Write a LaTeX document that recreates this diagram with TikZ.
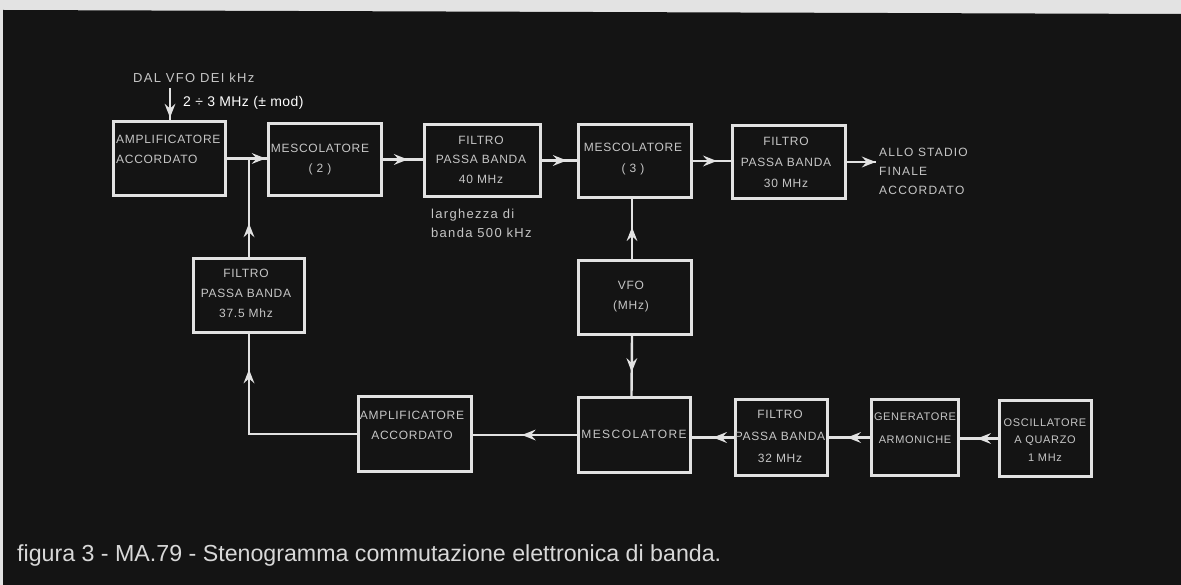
\documentclass[tikz,border=0pt]{standalone}
\usepackage{fontspec}
\setmainfont{Liberation Sans}
\newfontfamily\boxfont[LetterSpace=6]{Liberation Sans}
\newfontfamily\lblfont[LetterSpace=10]{Liberation Sans}
\newfontfamily\widebox[LetterSpace=12]{Liberation Sans}
\newfontfamily\inpfont[LetterSpace=3]{Liberation Sans}
\usetikzlibrary{arrows.meta,decorations.markings,calc}
\definecolor{bg}{HTML}{141414}
\definecolor{ln}{HTML}{E2E2E2}
\definecolor{tx}{HTML}{C6C6C6}
\definecolor{paper}{HTML}{E3E3E3}
\definecolor{cap}{HTML}{D8D8D8}
\begin{document}
\begin{tikzpicture}[x=1pt,y=-1pt,
  box/.style={draw=ln,line width=3.4pt,fill=bg,inner sep=0pt},
  con/.style={draw=ln,line width=2.4pt},
  mk/.style={postaction={decorate},decoration={markings,mark=at position #1 with {\fill[ln] (0pt,0pt) -- (-14pt,5.5pt) -- (-9pt,0pt) -- (-14pt,-5.5pt) -- cycle;}}},
  txt/.style={text=tx,inner sep=0pt,align=center,font=\boxfont\fontsize{12}{20}\selectfont},
  lbl/.style={text=tx,inner sep=0pt,align=left,font=\lblfont\fontsize{13}{19}\selectfont}
]
\useasboundingbox (0,0) rectangle (1181,585);
\fill[paper] (0,0) rectangle (1181,585);
\fill[bg] (3,10) -- (1181,14) -- (1181,585) -- (3,585) -- cycle;

% upper chain
\node[box,minimum width=112pt,minimum height=74pt] (amp1) at (169.5,158.5) {};
\node[box,minimum width=113pt,minimum height=72pt] (mesc2) at (325,159.5) {};
\node[box,minimum width=116pt,minimum height=72pt] (filt40) at (482.5,160.5) {};
\node[box,minimum width=113pt,minimum height=73pt] (mesc3) at (635,161) {};
\node[box,minimum width=113pt,minimum height=73pt] (filt30) at (789,162) {};
% middle
\node[box,minimum width=111pt,minimum height=74pt] (filt37) at (249,295.5) {};
\node[box,minimum width=113pt,minimum height=74pt] (vfo) at (635,297.5) {};
% lower chain
\node[box,minimum width=113pt,minimum height=75pt] (ampB) at (415,434) {};
\node[box,minimum width=112pt,minimum height=75pt] (mescB) at (634.5,435) {};
\node[box,minimum width=92pt,minimum height=76pt] (filt32) at (781.5,437.5) {};
\node[box,minimum width=87pt,minimum height=76pt] (gen) at (915,437.5) {};
\node[box,minimum width=92pt,minimum height=76pt] (osc) at (1045.5,438.5) {};

% box texts
\node[txt,anchor=west,align=left] (t1) at (116,149.5) {AMPLIFICATORE\\ACCORDATO};
\node[txt] (t2) at (320,159.5) {MESCOLATORE\\( 2 )};
\node[txt,font=\boxfont\fontsize{12}{19.5}\selectfont] (t3) at (481,159.5) {FILTRO\\PASSA BANDA\\40 MHz};
\node[txt,font=\boxfont\fontsize{12}{21}\selectfont] (t4) at (633,159) {MESCOLATORE\\( 3 )};
\node[txt,font=\boxfont\fontsize{12}{21}\selectfont] (t5) at (786,162) {FILTRO\\PASSA BANDA\\30 MHz};
\node[txt] (t6) at (246,293.5) {FILTRO\\PASSA BANDA\\37.5 Mhz};
\node[txt] (t7) at (631,297) {VFO\\(MHz)};
\node[txt] (t8) at (412,425) {AMPLIFICATORE\\ACCORDATO};
\node[txt,font=\widebox\fontsize{12}{20}\selectfont] (t9) at (634,434) {MESCOLATORE};
\node[txt,font=\boxfont\fontsize{12}{22}\selectfont] (t10) at (780,436) {FILTRO\\PASSA BANDA\\32 MHz};
\node[txt,font=\boxfont\fontsize{11}{23}\selectfont] (t11) at (915,428) {GENERATORE\\ARMONICHE};
\node[txt,font=\boxfont\fontsize{11}{17.5}\selectfont] (t12) at (1045,440) {OSCILLATORE\\A QUARZO\\1 MHz};

% free labels
\node[lbl,anchor=west] (l1) at (133,78) {DAL VFO DEI kHz};
\node[lbl,anchor=west,text=white,font=\inpfont\fontsize{14}{16}\selectfont] (l2) at (183,103) {2 ÷ 3 MHz (± mod)};
\node[lbl,anchor=west] (l3) at (431,223) {larghezza di\\banda 500 kHz};
\node[lbl,anchor=west,font=\lblfont\fontsize{12}{19}\selectfont] (l4) at (879,171) {ALLO STADIO\\FINALE\\ACCORDATO};
\node[anchor=west,inner sep=0pt,text=cap,font=\fontsize{23.2}{25}\selectfont] (capt) at (17,555) {figura 3 - MA.79 - Stenogramma commutazione elettronica di banda.};

% connectors
\coordinate (in1) at (170,88);
\coordinate (out1) at (876,162);
\coordinate (j1) at (filt37.north |- amp1.east);
\draw[con,mk=0.93] (in1) -- (in1 |- amp1.north);
\draw[con,mk=0.97] (amp1.east) -- (amp1.east -| mesc2.west);
\draw[con,mk=0.34] (filt37.north) -- (j1);
\draw[con,mk=0.62] (mesc2.east) -- (mesc2.east -| filt40.west);
\draw[con,mk=0.71] (filt40.east) -- (filt40.east -| mesc3.west);
\draw[con,mk=0.63] (mesc3.east) -- (mesc3.east -| filt30.west);
\draw[con,mk=0.99] (filt30.east) -- (out1);
\draw[con,mk=0.53] ([xshift=-3pt]vfo.north) -- ([xshift=-3pt]mesc3.south);
\draw[con,mk=0.6] ([xshift=-3pt]vfo.south) -- ([xshift=-3pt]mescB.north);
\draw[con,mk=0.53] (mescB.west) -- (mescB.west -| ampB.east);
\draw[con,mk=0.83] (ampB.west) -| (filt37.south);
\draw[con,mk=0.5] (filt32.west) -- (filt32.west -| mescB.east);
\draw[con,mk=0.56] (gen.west) -- (gen.west -| filt32.east);
\draw[con,mk=0.55] (osc.west) -- (osc.west -| gen.east);
\end{tikzpicture}
\end{document}
